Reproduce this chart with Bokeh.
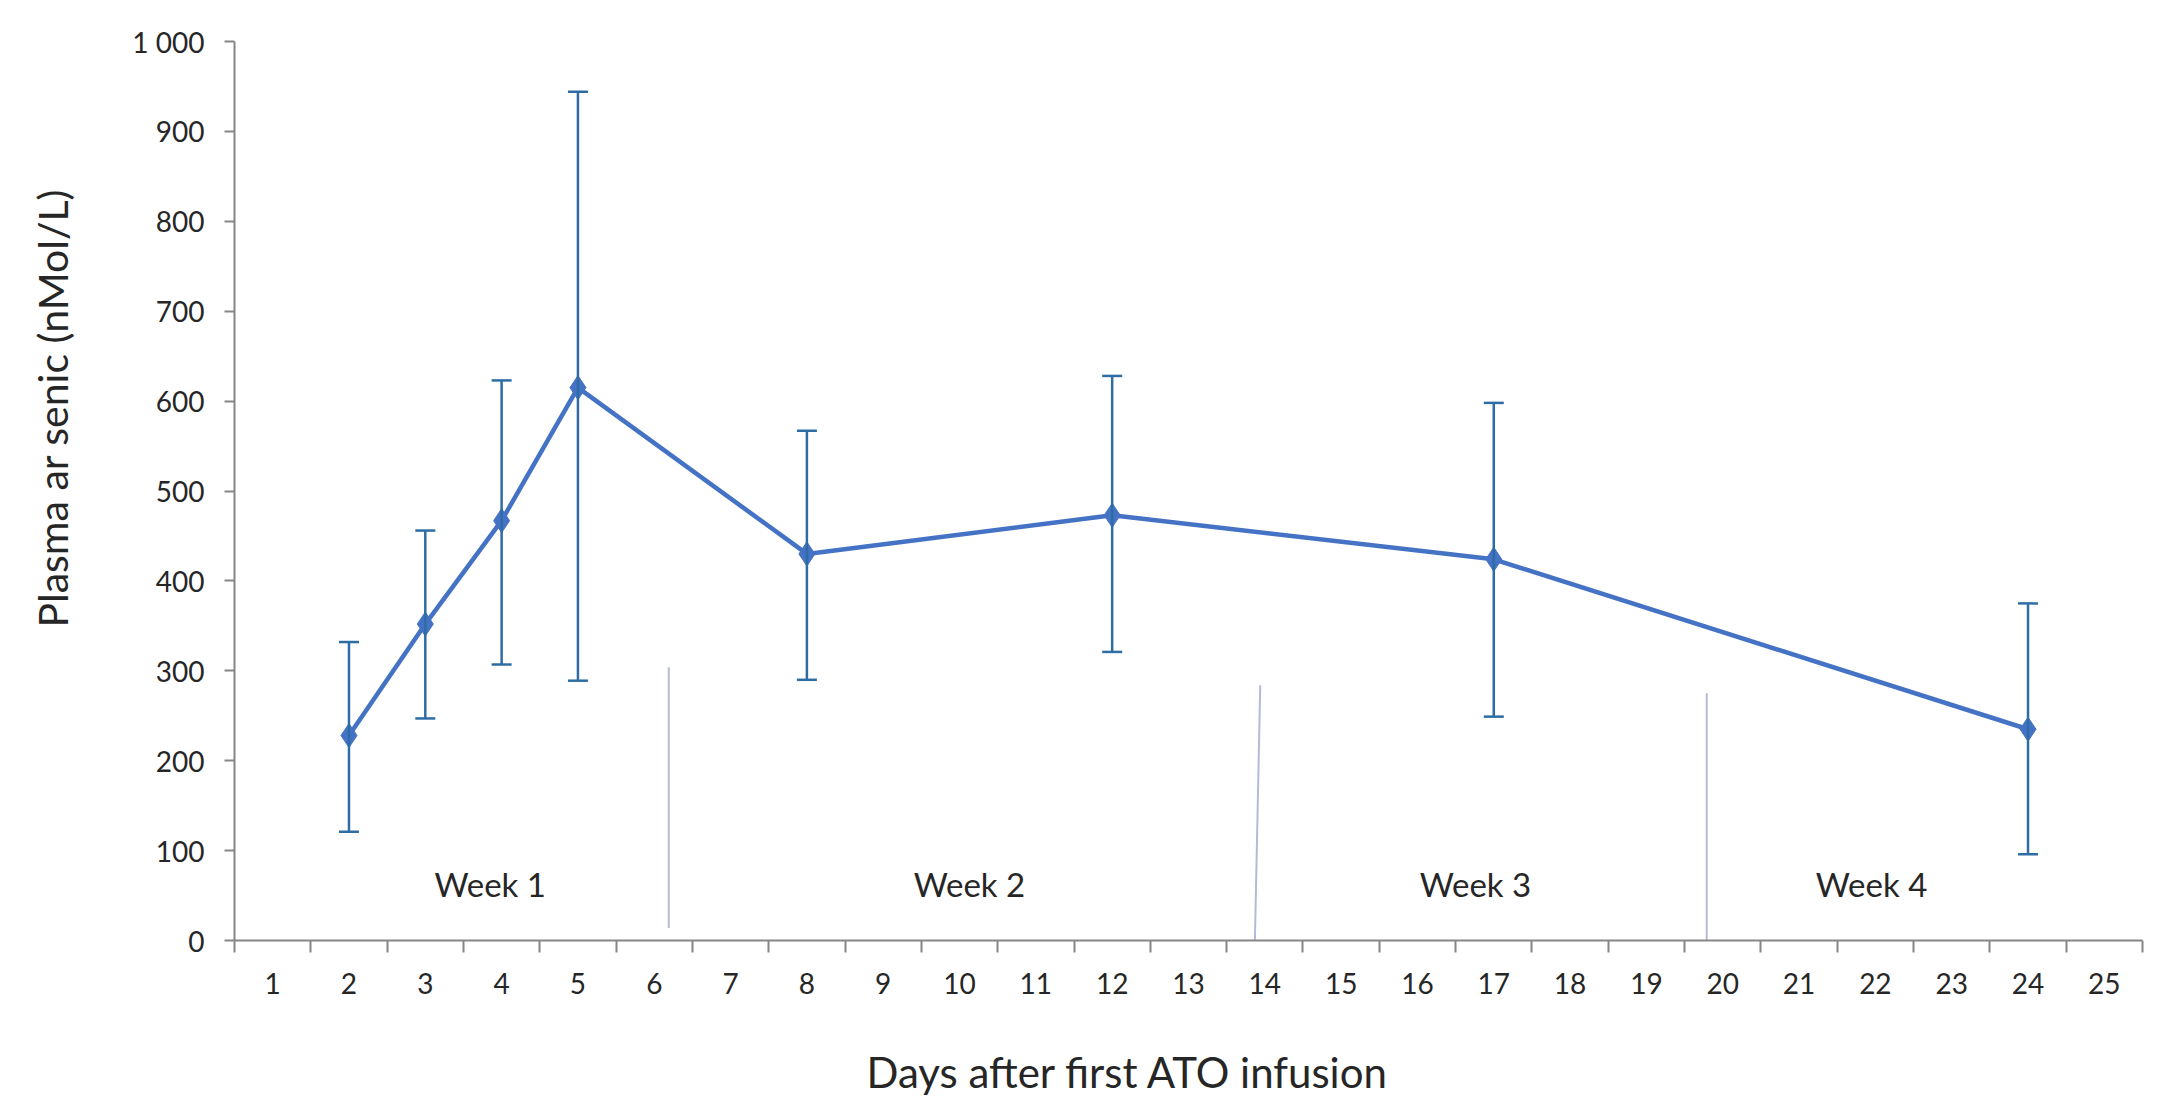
from bokeh.plotting import figure
from bokeh.models import FixedTicker, Whisker, ColumnDataSource, TeeHead, Range1d, Title
from bokeh.core.properties import value
from bokeh.embed import file_html
from bokeh.resources import INLINE

# ---- data ----
days = [2, 3, 4, 5, 8, 12, 17, 24]
mean_arsenic = [228, 352, 467, 615, 430, 473, 424, 235]
lower_err = [121, 247, 307, 289, 290, 321, 249, 96]
upper_err = [332, 456, 623, 944, 567, 628, 598, 375]

x_tick_labels = [str(i) for i in range(1, 26)]
y_ticks = [0, 100, 200, 300, 400, 500, 600, 700, 800, 900, 1000]

week_labels = ["Week 1", "Week 2", "Week 3", "Week 4"]
week_label_x = [3.85, 10.13, 16.76, 21.95]
week_label_y = [63, 63, 63, 63]

sep_x0 = [6.19, 13.87, 19.79]
sep_y0 = [14, 0, 0]
sep_x1 = [6.19, 13.94, 19.79]
sep_y1 = [304, 284, 275]

x_title = "Days after first ATO infusion"
y_title = "Plasma ar senic (nMol/L)"

FONT = "Lato"
AXIS_GRAY = "#868686"
TEXT_COL = "#262626"

p = figure(width=2150, height=1100,
           x_range=Range1d(0.5, 25.5), y_range=Range1d(0, 1000),
           output_backend="svg", toolbar_location=None,
           min_border_left=234, min_border_right=8,
           min_border_top=41, min_border_bottom=160)

p.xgrid.visible = False
p.ygrid.visible = False
p.outline_line_color = None
p.background_fill_color = "white"

# separators
p.segment(x0=sep_x0, y0=sep_y0, x1=sep_x1, y1=sep_y1,
          line_color="#b2bbd8", line_width=2)

# week labels
p.text(x=week_label_x, y=week_label_y, text=week_labels,
       text_font=value(FONT), text_font_size="33px", text_color=TEXT_COL,
       text_align="center", text_baseline="middle")

src = ColumnDataSource(dict(day=days, mean=mean_arsenic, lower=lower_err, upper=upper_err))

p.line("day", "mean", source=src, line_color="#4472C4", line_width=4.5)
p.scatter("day", "mean", source=src, marker="diamond", size=24,
          fill_color="#4472C4", line_color="#4472C4")

err_col = "#2E6DA4"
wh = Whisker(source=src, base="day", upper="upper", lower="lower",
             line_color=err_col, line_width=2.5, level="overlay",
             upper_head=TeeHead(size=20, line_color=err_col, line_width=2.5),
             lower_head=TeeHead(size=20, line_color=err_col, line_width=2.5))
p.add_layout(wh)

# x axis
xa = p.xaxis[0]
xa.ticker = FixedTicker(ticks=list(range(1, 26)), minor_ticks=[i + 0.5 for i in range(0, 26)])
xa.major_label_overrides = {i + 1: lab for i, lab in enumerate(x_tick_labels)}
xa.major_tick_out = 0
xa.major_tick_in = 0
xa.minor_tick_out = 12
xa.minor_tick_in = 0
xa.minor_tick_line_color = AXIS_GRAY
xa.minor_tick_line_width = 2
xa.axis_line_color = AXIS_GRAY
xa.axis_line_width = 2
xa.major_label_text_font = FONT
xa.major_label_text_font_size = "28px"
xa.major_label_text_color = TEXT_COL
xa.major_label_standoff = 20
# spacer so the offset title below sits at the right distance
xa.axis_label = " "
xa.axis_label_text_font_size = "1px"
xa.axis_label_standoff = 46

# y axis
ya = p.yaxis[0]
ya.ticker = FixedTicker(ticks=y_ticks, minor_ticks=[])
ya.major_label_overrides = {1000: "1 000"}
ya.major_tick_out = 10
ya.major_tick_in = 0
ya.major_tick_line_color = AXIS_GRAY
ya.major_tick_line_width = 2
ya.minor_tick_out = 0
ya.minor_tick_in = 0
ya.axis_line_color = AXIS_GRAY
ya.axis_line_width = 2
ya.major_label_text_font = FONT
ya.major_label_text_font_size = "28px"
ya.major_label_text_color = TEXT_COL
ya.major_label_standoff = 20
ya.axis_label = " "
ya.axis_label_text_font_size = "1px"
ya.axis_label_standoff = 49

# axis titles, offset along the axis like the original
p.add_layout(Title(text=x_title, align="left", offset=632, standoff=0,
                   vertical_align="top",
                   text_font=FONT, text_font_size="42px", text_font_style="normal",
                   text_color=TEXT_COL), "below")
p.add_layout(Title(text=y_title, align="left", offset=313, standoff=0,
                   text_font=FONT, text_font_size="41px", text_font_style="normal",
                   text_color=TEXT_COL), "left")

open("out.html", "w").write(file_html(p, INLINE))
